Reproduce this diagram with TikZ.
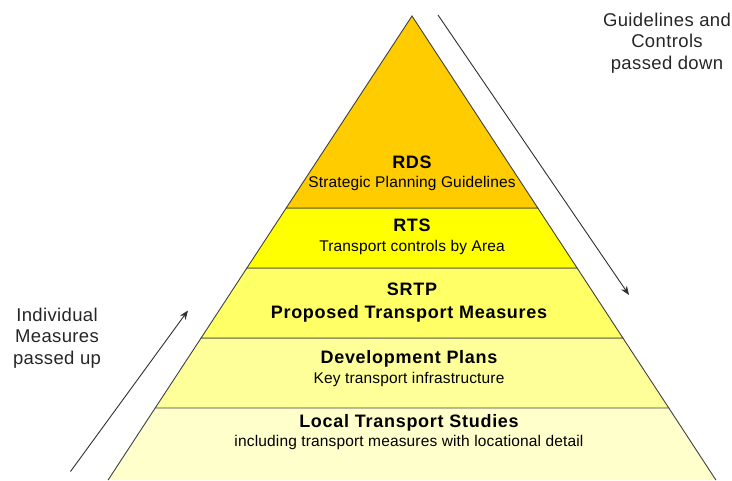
\documentclass[tikz,border=0pt]{standalone}
\usepackage{fontspec}
\setmainfont{Liberation Sans}
\usetikzlibrary{arrows.meta}
\definecolor{cRDS}{HTML}{FFCC00}
\definecolor{cRTS}{HTML}{FFFF00}
\definecolor{cSRTP}{HTML}{FFFF66}
\definecolor{cDEV}{HTML}{FFFF99}
\definecolor{cLOC}{HTML}{FFFFCC}
\definecolor{edge}{HTML}{404040}
\definecolor{arrowc}{HTML}{303030}
\begin{document}
\begin{tikzpicture}[x=1pt,y=-1pt,
  layer/.style={draw=edge,line width=0.9pt,line join=miter},
  title/.style={anchor=base,inner sep=0pt,font=\fontsize{18}{21}\selectfont\bfseries\addfontfeature{LetterSpace=4}},
  sub/.style={anchor=base,inner sep=0pt,font=\fontsize{15.5}{18}\selectfont\addfontfeature{LetterSpace=1}},
  side/.style={anchor=base,inner sep=0pt,align=center,font=\fontsize{18.5}{21.5}\selectfont\addfontfeature{LetterSpace=2},text=black!85},
  flow/.style={draw=arrowc,line width=0.9pt,-{Stealth[length=9pt,width=7pt]}}]
\useasboundingbox (0,0) rectangle (732,480);
% pyramid layers
\fill[cLOC] (108.1,480) -- (155.2,408) -- (668.8,408) -- (715.9,480) -- cycle;
\draw[layer] (108.1,480) -- (155.2,408) (668.8,408) -- (715.9,480);
\draw[layer,fill=cDEV] (155.2,408) -- (201.1,338) -- (622.9,338) -- (668.8,408) -- cycle;
\draw[layer,fill=cSRTP] (201.1,338) -- (246.9,268) -- (577.1,268) -- (622.9,338) -- cycle;
\draw[layer,fill=cRTS] (246.9,268) -- (286.2,208) -- (537.8,208) -- (577.1,268) -- cycle;
\draw[layer,fill=cRDS] (286.2,208) -- (412,16) -- (537.8,208) -- cycle;
% texts
\node[title] (rds) at (412,168.5) {RDS};
\node[sub] (rdss) at (412,187) {Strategic Planning Guidelines};
\node[title] (rts) at (412,231) {RTS};
\node[sub] (rtss) at (412,251) {Transport controls by Area};
\node[title] (srtp) at (412,295) {SRTP};
\node[title] (srtps) at (409,318) {Proposed Transport Measures};
\node[title] (dev) at (409,363) {Development Plans};
\node[sub] (devs) at (409,383) {Key transport infrastructure};
\node[title] (loc) at (409,427) {Local Transport Studies};
\node[sub] (locs) at (409,446) {including transport measures with locational detail};
% side labels
\node[side] (down) at (667,69) {Guidelines and\\Controls\\passed down};
\node[side] (up) at (57,364) {Individual\\Measures\\passed up};
% arrows
\coordinate (upA) at (70.5,471.5);
\coordinate (upB) at (188,310.5);
\coordinate (dnA) at (438,15);
\coordinate (dnB) at (629,295);
\draw[flow] (upA) -- (upB);
\draw[flow] (dnA) -- (dnB);
\end{tikzpicture}
\end{document}
